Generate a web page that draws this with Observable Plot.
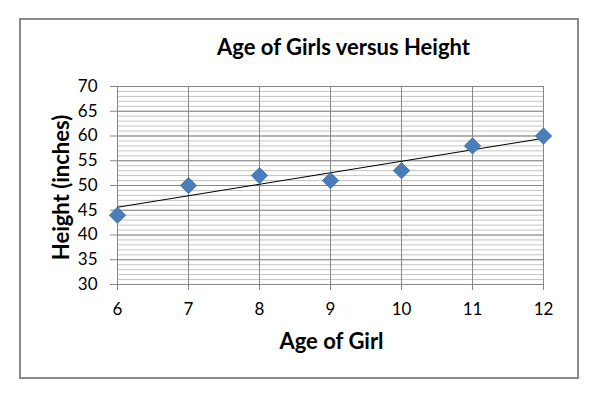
<!DOCTYPE html>
<html><head><meta charset="utf-8">
<script src="https://cdn.jsdelivr.net/npm/d3@7"></script>
<script src="https://cdn.jsdelivr.net/npm/@observablehq/plot@0.6"></script>
<style>
body{margin:0;background:#fff}
#wrap{position:relative;width:600px;height:402px;overflow:hidden}
#frame{position:absolute;left:19px;top:18px;width:560px;height:361px;border:2px solid #8a8a8a;box-sizing:border-box}
#wrap svg{position:absolute;left:0;top:0}
</style></head>
<body><div id="wrap"><div id="frame"></div></div>
<script>
const ages = [6, 7, 8, 9, 10, 11, 12];
const heights = [44, 50, 52, 51, 53, 58, 60];
const xTicks = [6, 7, 8, 9, 10, 11, 12];
const yTicks = [30, 35, 40, 45, 50, 55, 60, 65, 70];
const yMinor = d3.range(30, 71, 1);
const title = "Age of Girls versus Height";
const xLabel = "Age of Girl";
const yLabel = "Height (inches)";

const data = ages.map((a, i) => ({age: a, height: heights[i]}));

const chart = Plot.plot({
  width: 600, height: 402,
  marginLeft: 117, marginRight: 57, marginTop: 86, marginBottom: 118,
  style: {fontFamily: "Lato, sans-serif", fontSize: "17px", color: "#000", background: "transparent", overflow: "visible"},
  x: {domain: [6, 12]},
  y: {domain: [30, 70]},
  marks: [
    Plot.gridY(yMinor, {stroke: "#c4c4c4", strokeOpacity: 1, strokeWidth: 1}),
    Plot.gridY(yTicks, {stroke: "#878787", strokeOpacity: 1, strokeWidth: 1}),
    Plot.gridX(xTicks, {stroke: "#878787", strokeOpacity: 1, strokeWidth: 1}),
    Plot.axisY(yTicks, {tickSize: 7, tickPadding: 13, stroke: "#878787", label: null, fontSize: 17, fill: "#000"}),
    Plot.axisX(xTicks, {tickSize: 6, tickPadding: 12, stroke: "#878787", label: null, fontSize: 17, fill: "#000"}),
    Plot.linearRegressionY(data, {x: "age", y: "height", stroke: "#000", strokeWidth: 1, ci: 0}),
    Plot.dot(data, {x: "age", y: "height", symbol: "square", rotate: 45, r: 6.5, fill: "#4a7ebb", stroke: "#3d6ca6", strokeWidth: 0.8}),
    Plot.text([title], {frameAnchor: "top", dx: 13, dy: -39, fontSize: 22, fontWeight: "bold", fill: "#000", lineAnchor: "middle"}),
    Plot.text([xLabel], {frameAnchor: "bottom", dx: 1, dy: 57, fontSize: 22, fontWeight: "bold", fill: "#000", lineAnchor: "middle"}),
    Plot.text([yLabel], {frameAnchor: "left", textAnchor: "middle", dx: -56, dy: 2, rotate: -90, fontSize: 22, fontWeight: "bold", fill: "#000", lineAnchor: "middle"})
  ]
});
document.getElementById("wrap").appendChild(chart);
</script>
</body></html>
